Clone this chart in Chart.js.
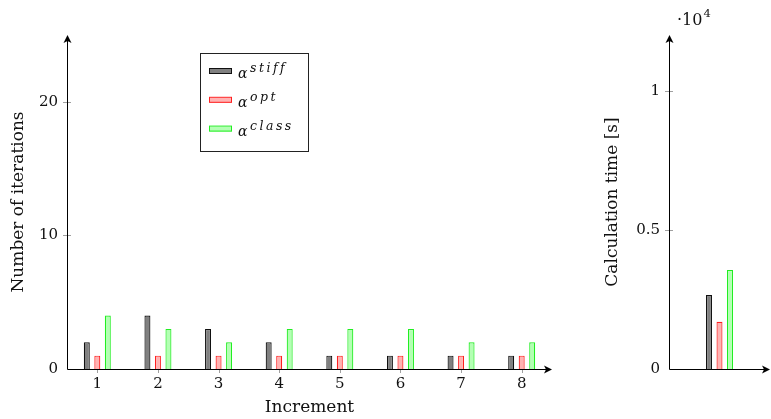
<!DOCTYPE html>
<html>
<head>
<meta charset="utf-8">
<script src="https://cdn.jsdelivr.net/npm/chart.js@4"></script>
<style>
  body { margin: 0; background: #fff; }
  #wrap { position: relative; width: 771px; height: 419px; }
  canvas { position: absolute; top: 0; }
</style>
</head>
<body>
<div id="wrap">
  <canvas id="iter" width="590" height="419" style="left:0"></canvas>
  <canvas id="time" width="181" height="419" style="left:590px"></canvas>
</div>
<script>
// iterations per increment
const increments = ['1', '2', '3', '4', '5', '6', '7', '8'];
const itersStiff = [2, 4, 3, 2, 1, 1, 1, 1];
const itersOpt   = [1, 1, 1, 1, 1, 1, 1, 1];
const itersClass = [4, 3, 2, 3, 3, 3, 2, 2];
const iterTicks  = [0, 10, 20];

// total calculation time, seconds
const timeStiff = [2660];
const timeOpt   = [1700];
const timeClass = [3560];
const timeTicks = [0, 5000, 10000];

const seriesNames = ['stiff', 'opt', 'class'];

const FONT = "'DejaVu Serif', serif";
Chart.defaults.font.family = FONT;
Chart.defaults.color = '#111';
Chart.defaults.animation = false;

const looks = [
  { fill: '#808080', line: '#111111' },
  { fill: '#ffb3b3', line: '#ff2020' },
  { fill: '#b3ffb3', line: '#22ee22' }
];

function makeSets(values) {
  return values.map((v, i) => ({
    label: seriesNames[i],
    data: v,
    backgroundColor: looks[i].fill,
    borderColor: looks[i].line,
    borderWidth: 1.2,
    inflateAmount: 0
  }));
}

function arrowHead(ctx, x, y, rot) {
  ctx.save();
  ctx.translate(x, y);
  ctx.rotate(rot);
  ctx.beginPath();
  ctx.moveTo(0, 0);
  ctx.lineTo(-4, 8);
  ctx.lineTo(0, 6);
  ctx.lineTo(4, 8);
  ctx.closePath();
  ctx.fill();
  ctx.restore();
}

// pgf-like axes: gray centred tick marks, black lines with arrow heads
const axesPlugin = {
  id: 'axes',
  beforeDatasetsDraw(chart, args, opts) {
    const { ctx, chartArea: a, scales: { x, y } } = chart;
    ctx.save();
    ctx.strokeStyle = '#a0a0a0';
    ctx.lineWidth = 1;
    ctx.beginPath();
    y.ticks.forEach((t, i) => {
      if (t.value === 0) return;
      const py = Math.round(y.getPixelForTick(i)) + 0.5;
      ctx.moveTo(a.left - 4, py);
      ctx.lineTo(a.left + 4, py);
    });
    if (opts.xTicks) {
      x.ticks.forEach((t, i) => {
        const px = Math.round(x.getPixelForTick(i)) + 0.5;
        ctx.moveTo(px, a.bottom - 4);
        ctx.lineTo(px, a.bottom + 4);
      });
    }
    ctx.stroke();
    ctx.restore();
  },
  afterDatasetsDraw(chart) {
    const { ctx, chartArea: a } = chart;
    const lx = Math.round(a.left) + 0.5;
    const by = Math.round(a.bottom) + 0.5;
    ctx.save();
    ctx.strokeStyle = '#000';
    ctx.fillStyle = '#000';
    ctx.lineWidth = 1;
    ctx.beginPath();
    ctx.moveTo(lx, by);
    ctx.lineTo(lx, a.top + 6);
    ctx.moveTo(lx, by);
    ctx.lineTo(a.right - 6, by);
    ctx.stroke();
    arrowHead(ctx, lx, a.top, 0);
    arrowHead(ctx, a.right, by, Math.PI / 2);
    ctx.restore();
  }
};

// framed legend with alpha^{name} entries
const boxLegend = {
  id: 'boxLegend',
  afterDraw(chart, args, opts) {
    if (!opts.show) return;
    const ctx = chart.ctx;
    ctx.save();
    ctx.strokeStyle = '#222';
    ctx.lineWidth = 1;
    ctx.strokeRect(200.5, 53.5, 108, 98);
    chart.data.datasets.forEach((ds, i) => {
      const cy = 71 + i * 28.8;
      ctx.fillStyle = ds.backgroundColor;
      ctx.fillRect(209, cy - 2, 23, 5);
      ctx.strokeStyle = ds.borderColor;
      ctx.strokeRect(209.5, cy - 2.5, 22, 5);
      ctx.fillStyle = '#111';
      ctx.textBaseline = 'alphabetic';
      ctx.font = 'italic 14px ' + FONT;
      ctx.fillText('\u03b1', 238, cy + 7);
      ctx.font = 'italic 12.5px ' + FONT;
      ctx.letterSpacing = '2.5px';
      ctx.fillText(ds.label, 250, cy + 1);
      ctx.letterSpacing = '0px';
    });
    ctx.restore();
  }
};

// "·10^4" multiplier above the time axis
const multiplier = {
  id: 'multiplier',
  afterDraw(chart, args, opts) {
    if (!opts.show) return;
    const ctx = chart.ctx;
    ctx.save();
    ctx.fillStyle = '#111';
    ctx.font = '16px ' + FONT;
    ctx.fillText('\u00b710', 87, 25);
    const w = ctx.measureText('\u00b710').width;
    ctx.font = '11.5px ' + FONT;
    ctx.fillText('4', 87 + w + 1, 17);
    ctx.restore();
  }
};

function buildChart(id, labels, values, ticks, o) {
  return new Chart(document.getElementById(id), {
    type: 'bar',
    data: { labels: labels, datasets: makeSets(values) },
    plugins: [axesPlugin, boxLegend, multiplier],
    options: {
      responsive: false,
      devicePixelRatio: 1,
      categoryPercentage: o.catPct,
      barPercentage: 0.57,
      layout: { padding: { top: 35, right: o.padRight, left: 0, bottom: 0 } },
      plugins: {
        legend: { display: false },
        tooltip: { enabled: false },
        axes: { xTicks: o.xTicks },
        boxLegend: { show: o.legend },
        multiplier: { show: o.multiplier }
      },
      scales: {
        x: {
          grid: { display: false, drawTicks: false },
          border: { display: false },
          ticks: { display: o.xTicks, padding: 6, font: { size: 15 } },
          title: { display: !!o.xTitle, text: o.xTitle, font: { size: 17 }, padding: { top: 0, bottom: 1 } },
          afterFit: s => { s.height = 50; }
        },
        y: {
          min: 0,
          max: o.yMax,
          grid: { display: false, drawTicks: false },
          border: { display: false },
          afterBuildTicks: s => { s.ticks = ticks.map(v => ({ value: v })); },
          ticks: { padding: 9, font: { size: 15 }, callback: o.fmt },
          title: { display: true, text: o.yTitle, font: { size: 17 }, padding: { top: o.yTitlePad, bottom: 0 } },
          afterFit: s => { s.width = o.yWidth; }
        }
      }
    }
  });
}

buildChart('iter', increments, [itersStiff, itersOpt, itersClass], iterTicks, {
  catPct: 0.52, padRight: 38, xTicks: true, legend: true, multiplier: false,
  xTitle: 'Increment', yTitle: 'Number of iterations', yMax: 25,
  yWidth: 67, yTitlePad: 8, fmt: v => v
});

buildChart('time', [''], [timeStiff, timeOpt, timeClass], timeTicks, {
  catPct: 0.312, padRight: 1, xTicks: false, legend: false, multiplier: true,
  xTitle: '', yTitle: 'Calculation time [s]', yMax: 12000,
  yWidth: 79, yTitlePad: 12, fmt: v => v / 10000
});
</script>
</body>
</html>
